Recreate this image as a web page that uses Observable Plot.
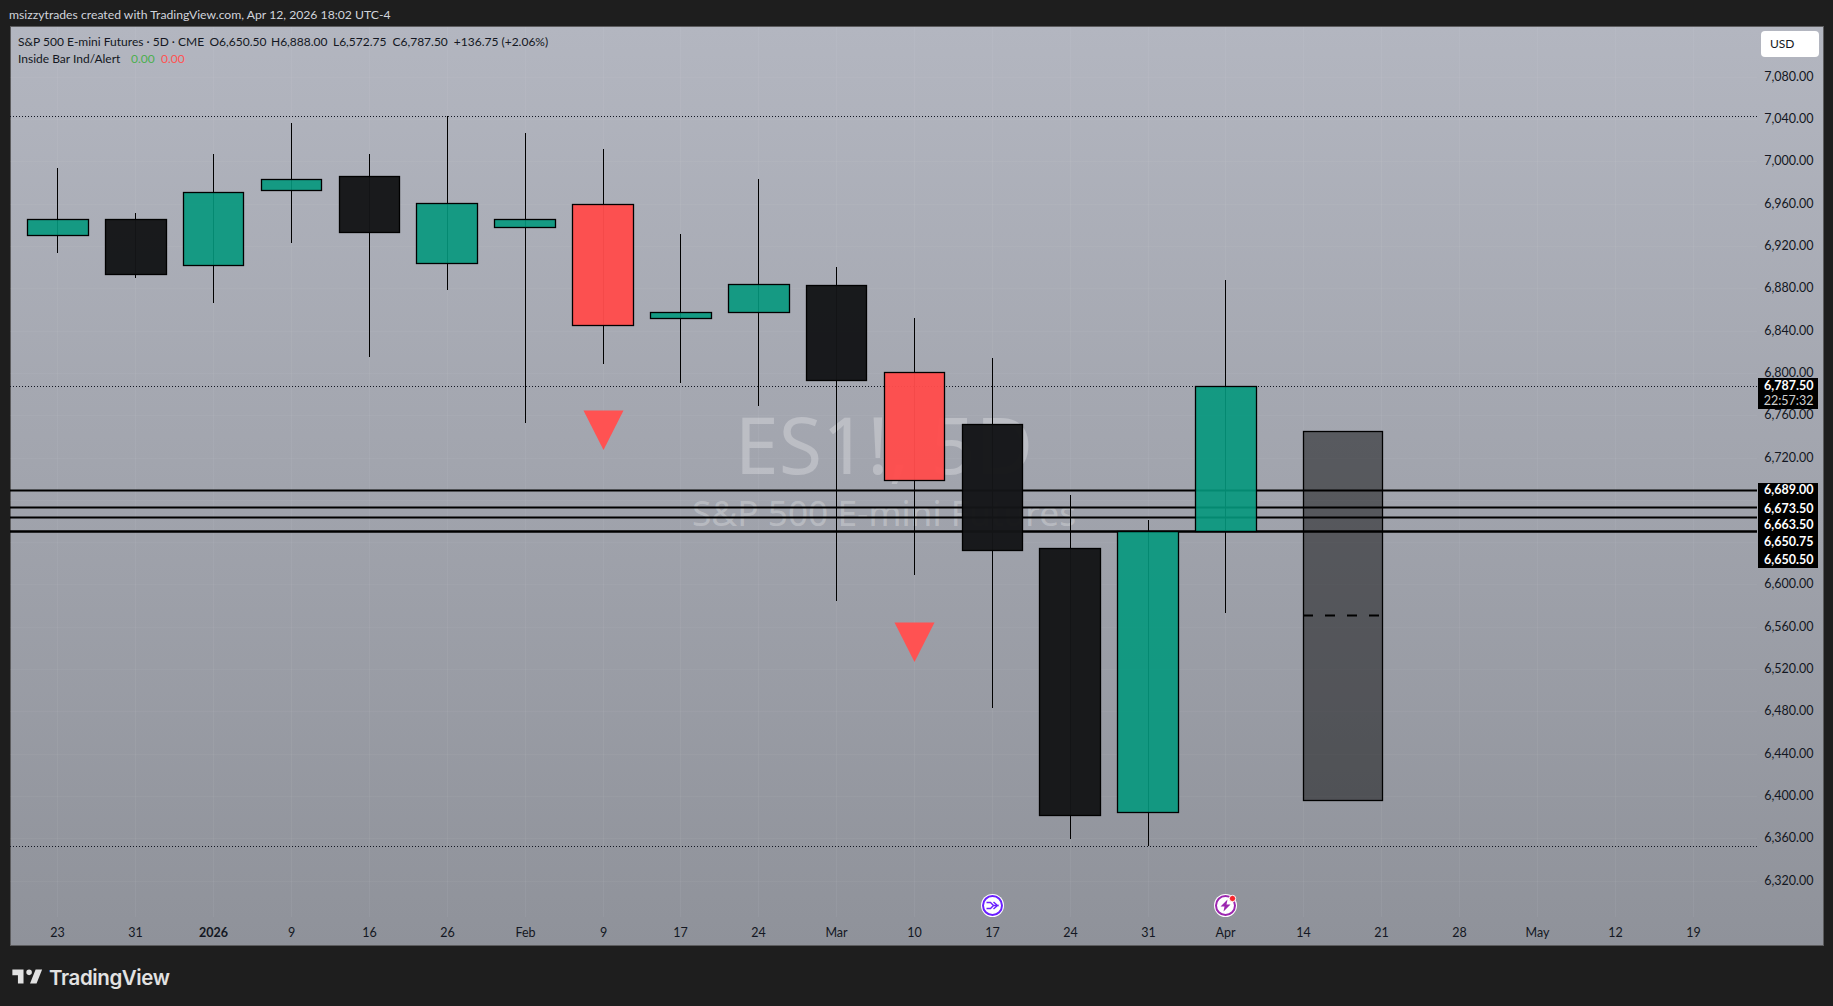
<!DOCTYPE html>
<html><head><meta charset="utf-8">
<script src="https://cdn.jsdelivr.net/npm/d3@7"></script>
<script src="https://cdn.jsdelivr.net/npm/@observablehq/plot@0.6"></script>
<style>
html,body{margin:0;padding:0;background:#1e1e1e;width:1833px;height:1006px;overflow:hidden;font-family:Lato,sans-serif}
.abs{position:absolute;white-space:pre;line-height:16px}
#panel{left:10px;top:26px;width:1812px;height:918px;border:1px solid #5c5c5e;background:linear-gradient(180deg,#b3b6c0 0%,#8f929a 100%)}
#chart{position:absolute;left:0;top:0}
#chart text{font-family:Lato,sans-serif}
#chart .wm text{font-family:"Noto Sans",sans-serif}
</style></head><body>
<div class="abs" id="panel"></div>
<div id="chart"></div>
<div class="abs" id="hdr" style="left:9px;top:7px;color:#d1d4dc;font-size:12.2px"></div>
<div class="abs" id="leg1" style="left:18px;top:34px;color:#131722;font-size:12px;height:16px;width:560px"></div>
<div class="abs" id="leg2" style="left:18px;top:51px;color:#131722;font-size:12px;height:16px;width:200px"></div>
<div class="abs" style="left:1761px;top:31px;width:58px;height:26px;background:#fff;border-radius:4px;color:#131722;font-size:12px;line-height:26px;text-indent:9px">USD</div>
<svg class="abs" style="left:9px;top:963px" width="36" height="28" viewBox="0 0 36 28"><path fill="#e2e2e2" transform="translate(1.5,1) scale(.93)" d="M14 6H2v6h6v9h6V6Zm14 15h-7l6-15h7l-6 15Zm-8-9a3 3 0 1 0 0-6 3 3 0 0 0 0 6Z"/></svg>
<div class="abs" style="left:49px;top:966px;color:#e2e2e2;font:600 20.5px/24px Inter,sans-serif;letter-spacing:-.4px">TradingView</div>
<script>
const headerText = "msizzytrades created with TradingView.com, Apr 12, 2026 18:02 UTC-4";
const symbolName = "S&P 500 E-mini Futures · 5D · CME";
const legendOHLC = [["O6,650.50",209.5],["H6,888.00",271],["L6,572.75",333],["C6,787.50",392.5],["+136.75 (+2.06%)",453.8]];
const indicatorName = "Inside Bar Ind/Alert";

const opens  = [6930.1,6945.2,6901.7,6972.6,6985.9,6903.6,6937.6,6959.4,6851.6,6857.3,6882.8,6800.6,6751.7,6634.2,6384.7,6650.5];
const highs  = [6993.7,6950.9,7006.9,7036.2,7006.9,7042.5,7026.8,7011.7,6931.3,6983.3,6900.1,6851.9,6814.1,6684.6,6661.0,6888.0];
const lows   = [6913.6,6890.0,6866.5,6923.1,6814.6,6878.7,6752.6,6808.7,6790.7,6769.0,6584.7,6608.5,6483.5,6359.7,6352.5,6572.75];
const closes = [6945.2,6893.2,6970.7,6983.0,6932.9,6960.3,6945.2,6845.0,6857.3,6883.8,6793.0,6698.5,6632.3,6382.4,6650.5,6787.5];
const kinds  = ["up","down","up","up","down","up","up","red","up","up","down","red","down","down","up","up"];
const kindFill = {up:"#04987d",down:"#141517",red:"#ff4c4c"};

const timeLabels = ["23","31","2026","9","16","26","Feb","9","17","24","Mar","10","17","24","31","Apr","14","21","28","May","12","19"];
const boldTicks = ["2026"];
const priceTicks = [7080,7040,7000,6960,6920,6880,6840,6800,6760,6720,6680,6640,6600,6560,6520,6480,6440,6400,6360,6320];
const priceLabelsTicks = priceTicks.filter(p=>p!==6680 && p!==6640);
const dottedLevels = [7042.5,6787.5,6352.5];
const solidLevels = [6689,6673.5,6663.5,6650.75,6650.5];
const solidLabelShift = [-0.3,1,7.7,10.9,28];
const triangles = [{i:7,p:6746.5},{i:11,p:6546.1}];
const projected = {i1:16.0,i2:17.01,top:6744.8,bottom:6396,mid:6571.2};
const events = [{i:12,p:6297},{i:15,p:6297}];

document.getElementById("hdr").textContent = headerText;
const leg1 = document.getElementById("leg1");
function span(parent,txt,x,color){const s=document.createElement("span");s.textContent=txt;s.style.cssText=`position:absolute;left:${x}px;top:0;color:${color||"#131722"}`;parent.appendChild(s);}
span(leg1,symbolName,0);
legendOHLC.forEach(([t,x])=>span(leg1,t,x-18));
const leg2 = document.getElementById("leg2");
span(leg2,indicatorName,0);
span(leg2,"0.00",113,"#4caf50");
span(leg2,"0.00",143,"#ff5252");

const rows = opens.map((o,i)=>({i,o,h:highs[i],l:lows[i],c:closes[i],kind:kinds[i]}));
const half = 0.389;
const glyph = pts => ({draw(c){pts.forEach((p,k)=>k?c.lineTo(p[0],p[1]):c.moveTo(p[0],p[1]));c.closePath();}});
const downTri = {draw(c,size){const r=Math.sqrt(size/Math.PI);c.moveTo(-r,-r);c.lineTo(r,-r);c.lineTo(0,r*0.97);c.closePath();}};

const chart = Plot.plot({
  width:1833,height:1006,
  marginLeft:10,marginRight:76,marginTop:27,marginBottom:89,
  style:{background:"transparent",fontSize:"12px",color:"#131722"},
  x:{domain:[0,21],range:[57.4,1692.7],round:true,axis:null},
  y:{domain:[7080,6320],range:[76.7,880.7],round:true,axis:null},
  marks:[
    Plot.gridX(d3.range(timeLabels.length),{stroke:"#fff",strokeOpacity:0.05}),
    Plot.gridY(priceTicks,{stroke:"#fff",strokeOpacity:0.04}),
    Plot.text(["ES1!, 5D"],{className:"wm",frameAnchor:"top",dy:390,text:d=>d,fontSize:79,fill:"#fff",fillOpacity:0.27,lineAnchor:"top"}),
    Plot.text(["S&P 500 E-mini Futures"],{className:"wm",frameAnchor:"top",dy:473,text:d=>d,fontSize:35.3,fill:"#fff",fillOpacity:0.27,lineAnchor:"top"}),
    Plot.ruleY(dottedLevels,{stroke:"#131722",strokeWidth:1,strokeDasharray:"1,2"}),
    Plot.ruleY(solidLevels,{stroke:"#000",strokeWidth:2}),
    Plot.ruleX(rows,{x:"i",y1:"l",y2:"h",stroke:"#000",strokeWidth:1}),
    Plot.rect(rows,{x1:d=>d.i-half,x2:d=>d.i+half,y1:"o",y2:"c",dx:0.5,dy:0.5,fill:d=>kindFill[d.kind],fillOpacity:d=>d.kind==="down"?0.97:(d.kind==="red"?0.96:0.9),stroke:"#000",strokeWidth:1.3}),
    Plot.rect([projected],{x1:"i1",x2:"i2",y1:"top",y2:"bottom",dx:0.5,dy:0.5,fill:"#000",fillOpacity:0.46,stroke:"#000",strokeWidth:1.3}),
    Plot.ruleY([projected.mid],{x1:projected.i1,x2:projected.i2,stroke:"#000",strokeWidth:2,strokeDasharray:"10,12"}),
    Plot.dot(triangles,{x:"i",y:"p",r:20,symbol:downTri,fill:"#ff5252",stroke:"none"}),
    // event icons
    Plot.dot(events,{x:"i",y:"p",r:11.5,fill:"#fff",stroke:"none"}),
    Plot.dot(events.slice(0,1),{x:"i",y:"p",r:9.5,fill:"none",stroke:"#6a1fff",strokeWidth:2}),
    Plot.dot(events.slice(1),{x:"i",y:"p",r:9.5,fill:"none",stroke:"#9c27b0",strokeWidth:2}),
    Plot.dot(events.slice(0,1),{x:"i",y:"p",r:5,symbol:glyph([[-6,-3],[-2,-3],[1,0],[5,0],[1,-3.5],[5,0],[1,3.5],[5,0],[1,0],[-2,3],[-6,3],[-2,3],[1,0],[-2,-3]]),fill:"none",stroke:"#6a1fff",strokeWidth:1.4}),
    Plot.dot(events.slice(1),{x:"i",y:"p",r:5,symbol:glyph([[2,-6],[-5,1],[-1,1],[-2,6],[5,-1],[1,-1]]),fill:"#9c27b0",stroke:"none"}),
    Plot.dot(events.slice(1),{x:"i",y:"p",dx:7,dy:-7,r:3.2,fill:"#f7252d",stroke:"#fff",strokeWidth:1}),
    Plot.axisY(priceLabelsTicks,{anchor:"right",tickSize:0,tickPadding:0,textAnchor:"end",dx:56,dy:-1,tickFormat:d3.format(",.2f"),fill:"#131722",label:null,fontSize:12.5}),
    Plot.axisX(d3.range(timeLabels.length).filter(i=>!boldTicks.includes(timeLabels[i])),{anchor:"bottom",tickSize:0,tickPadding:11,tickFormat:i=>timeLabels[i],fill:"#131722",label:null,fontSize:12.5}),
    Plot.axisX(d3.range(timeLabels.length).filter(i=>boldTicks.includes(timeLabels[i])),{anchor:"bottom",tickSize:0,tickPadding:11,tickFormat:i=>timeLabels[i],fill:"#131722",label:null,fontSize:12.5,fontWeight:700}),
    // price boxes
    Plot.rect([{a:6794.9,b:6765.9},{a:6696.2,b:6615.9}],{x1:21.835,x2:22.605,y1:"a",y2:"b",fill:"#000",stroke:"none"}),
    Plot.text([6787.5],{x:22.55,y:d=>d,text:d=>d3.format(",.2f")(d),textAnchor:"end",fill:"#fff",fontWeight:700,fontSize:12.5,dy:-1}),
    Plot.text(["22:57:32"],{x:22.55,y:6787.5,text:d=>d,textAnchor:"end",fill:"#cfcfcf",fontSize:12.5,dy:14}),
    ...solidLevels.map((v,k)=>Plot.text([v],{x:22.55,y:d=>d,text:d=>d3.format(",.2f")(d),textAnchor:"end",fill:"#fff",fontWeight:700,fontSize:12.5,dy:solidLabelShift[k]}))
  ]
});
document.getElementById("chart").appendChild(chart);
</script>
</body></html>
